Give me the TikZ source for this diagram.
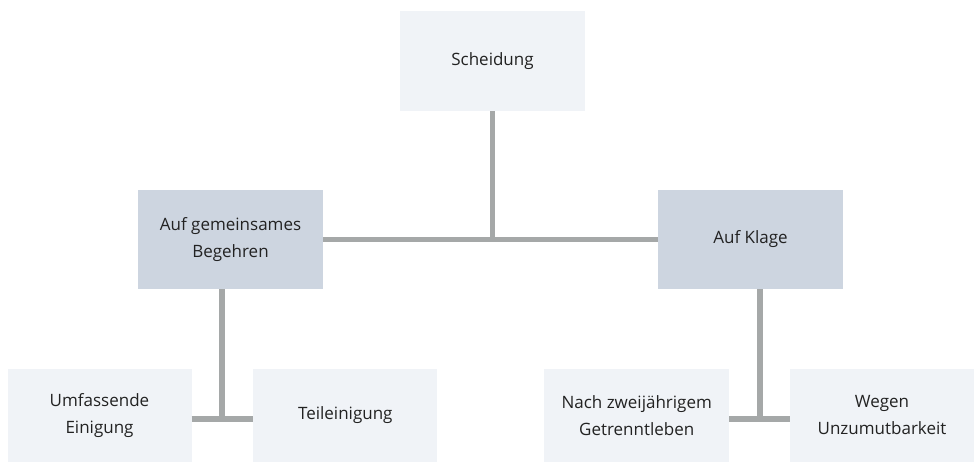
\documentclass[tikz,border=0pt]{standalone}
\usepackage{fontspec}
\setmainfont{Open Sans}
\definecolor{boxlight}{HTML}{F0F3F7}
\definecolor{boxdark}{HTML}{CDD5E0}
\definecolor{linegray}{HTML}{A5A8A8}
\definecolor{textcol}{HTML}{222222}
\tikzset{
  base/.style={rectangle, inner sep=0pt, text=textcol, align=center,
    font=\fontsize{17}{27}\selectfont},
  light/.style={base, fill=boxlight},
  dark/.style={base, fill=boxdark},
  conn/.style={draw=linegray, line width=5.5pt}
}
\begin{document}
\begin{tikzpicture}[x=1pt,y=-1pt]
\useasboundingbox (0,0) rectangle (979,462);
\node[light, minimum width=185pt, minimum height=100pt] (sch) at (492.5,61) {Scheidung};
\node[dark, minimum width=185pt, minimum height=99pt] (gem) at (230.5,239.5) {Auf gemeinsames\\Begehren};
\node[dark, minimum width=185pt, minimum height=99pt] (kla) at (750.5,239.5) {Auf Klage};
\node[light, minimum width=184pt, minimum height=93pt] (umf) at (99.5,415.5) {Umfassende\\Einigung};
\node[light, minimum width=184pt, minimum height=93pt] (teil) at (345.3,415.5) {Teileinigung};
\node[light, minimum width=185pt, minimum height=93pt] (nach) at (636.7,415.5) {Nach zweijährigem\\Getrenntleben};
\node[light, minimum width=184pt, minimum height=93pt] (weg) at (882,415.5) {Wegen\\Unzumutbarkeit};
\coordinate (jtop) at (492.5,240);
\coordinate (jl) at (222,419);
\coordinate (jr) at (760,419);
\draw[conn] (sch.south) -- (jtop);
\draw[conn] (gem.east) -- (kla.west);
\draw[conn] (gem.south -| jl) -- (jl);
\draw[conn] (umf.east |- jl) -- (teil.west |- jl);
\draw[conn] (kla.south -| jr) -- (jr);
\draw[conn] (nach.east |- jr) -- (weg.west |- jr);
\end{tikzpicture}
\end{document}
